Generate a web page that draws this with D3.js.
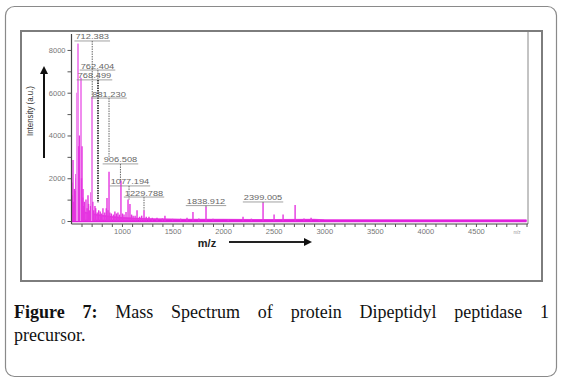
<!DOCTYPE html>
<html>
<head>
<meta charset="utf-8">
<script src="https://cdn.jsdelivr.net/npm/d3@7"></script>
<style>
body { margin: 0; background: #fff; }
#wrap { position: relative; width: 562px; height: 382px; }
#chart { position: absolute; left: 0; top: 0; }
.cap { position: absolute; left: 14px; width: 535px; font-family: "Liberation Serif", serif; font-size: 18px; color: #111; white-space: nowrap; }
#cap1 { top: 302px; text-align: justify; text-align-last: justify; white-space: normal; }
#cap2 { top: 325px; }
</style>
</head>
<body>
<div id="wrap">
<svg id="chart" width="562" height="382"></svg>
<div class="cap" id="cap1"><b>Figure 7:</b> Mass Spectrum of protein Dipeptidyl peptidase 1</div>
<div class="cap" id="cap2">precursor.</div>
</div>
<script>
// peaks: [m/z, intensity]
const peaks = [
    [505, 1800], [508, 1200], [516, 2850], [523, 900], [530, 1500], [538, 1400],
    [545, 2200], [548, 2000], [555, 6000], [565, 8300], [572, 3500], [580, 4000],
    [588, 2500], [595, 6700], [600, 2000], [605, 3500], [612, 1100], [615, 1500],
    [622, 700], [628, 900], [644, 1000], [655, 600], [664, 1200], [670, 800],
    [678, 500], [690, 700], [694, 1350], [704, 5800], [712, 900], [720, 500],
    [733, 700], [740, 600], [755, 400], [770, 500], [785, 450], [798, 350],
    [812, 600], [830, 400], [845, 600], [852, 1070], [862, 500], [872, 2300],
    [880, 400], [895, 350], [915, 300], [930, 450], [945, 350], [960, 400],
    [975, 300], [990, 1900], [1005, 350], [1020, 300], [1040, 420], [1060, 1000],
    [1079, 800], [1095, 300], [1110, 250], [1130, 250], [1149, 500], [1175, 200],
    [1195, 250], [1218, 500], [1240, 200], [1267, 200], [1300, 150], [1346, 150],
    [1400, 120], [1425, 250], [1500, 100], [1580, 110], [1643, 150], [1702, 420],
    [1760, 120], [1831, 650], [1900, 100], [2050, 90], [2197, 200], [2280, 110],
    [2395, 850], [2504, 300], [2593, 300], [2712, 750], [2800, 120], [2870, 150],
    [2950, 90]
];
// noisy floor under the spectrum
const baseline = [
    [500, 700], [520, 650], [550, 550], [600, 480], [650, 420], [700, 380],
    [750, 330], [800, 290], [900, 230], [1000, 190], [1100, 160], [1300, 130],
    [1600, 110], [2000, 100], [2500, 95], [2900, 110], [3000, 80], [4000, 75], [5000, 75]
];
const annotations = [
    { text: "712.383", at: 706, mz: 706, level: 8420, end: 5800, dark: false },
    { text: "762.404", at: 758, mz: 762, level: 7060, end: 6650, dark: false },
    { text: "768.499", at: 728, mz: 763, level: 6600, end: 850, dark: true },
    { text: "881.230", at: 872, mz: 872, level: 5750, end: 3000, dark: false },
    { text: "906.508", at: 985, mz: 985, level: 2670, end: 1900, dark: false },
    { text: "1077.194", at: 1079, mz: 1070, level: 1640, end: 1000, dark: false },
    { text: "1229.788", at: 1218, mz: 1218, level: 1120, end: 500, dark: false },
    { text: "1838.912", at: 1831, mz: 1831, level: 720, end: 650, dark: false },
    { text: "2399.005", at: 2395, mz: 2395, level: 890, end: 850, dark: false }
];
const mzMajor = [1000, 1500, 2000, 2500, 3000, 3500, 4000, 4500];
const intensityMajor = [0, 2000, 4000, 6000, 8000];

const svg = d3.select("#chart");
const pink = "#e535e0";

// outer rounded box and the figure frame
svg.append("rect").attr("x", 5.5).attr("y", 6.5).attr("width", 551).attr("height", 370)
    .attr("rx", 9).attr("fill", "none").attr("stroke", "#8a8a8a").attr("stroke-width", 1.2);
svg.append("rect").attr("x", 21).attr("y", 31).attr("width", 521).attr("height", 250)
    .attr("fill", "none").attr("stroke", "#7d7d7d").attr("stroke-width", 2);

const x = d3.scaleLinear().domain([500, 5000]).range([71.4, 526.5]);
const y = d3.scaleLinear().domain([0, 8746]).range([221, 34]);

// plot right border
svg.append("line").attr("x1", 528).attr("x2", 528).attr("y1", 32).attr("y2", 224)
    .attr("stroke", "#888").attr("stroke-width", 1);

// spectrum floor
svg.append("path")
    .datum(baseline)
    .attr("d", d3.area().x(d => x(d[0])).y0(y(0) + 1).y1(d => y(d[1])))
    .attr("fill", "#ef6aec");
svg.append("path")
    .datum(baseline)
    .attr("d", d3.line().x(d => x(d[0])).y(d => y(d[1]) + 1))
    .attr("fill", "none").attr("stroke", pink).attr("stroke-width", 1.5);
svg.append("line").attr("x1", x(500)).attr("x2", x(5000)).attr("y1", y(0)).attr("y2", y(0))
    .attr("stroke", "#e020dc").attr("stroke-width", 2.5);

// peaks
svg.append("g").selectAll("line").data(peaks).join("line")
    .attr("x1", d => x(d[0])).attr("x2", d => x(d[0]))
    .attr("y1", y(0)).attr("y2", d => y(d[1]))
    .attr("stroke", d => d[1] > 5000 ? "#f08cee" : pink)
    .attr("stroke-width", d => d[1] > 5000 ? 2 : 1.4);

// axes
const yAxis = d3.axisLeft(y)
    .tickValues(d3.range(0, 8001, 1000))
    .tickFormat(d => intensityMajor.includes(d) ? d : "")
    .tickSize(4).tickPadding(2);
const gy = svg.append("g").attr("transform", "translate(71.5,0)").call(yAxis);
gy.select(".domain").attr("d", "M0,34V224");

const xAxis = d3.axisBottom(x)
    .tickValues(d3.range(600, 5001, 100))
    .tickFormat(d => mzMajor.includes(d) ? d : "")
    .tickSize(3).tickPadding(2);
const gx = svg.append("g").attr("transform", "translate(0,224)").call(xAxis);
gx.select(".domain").attr("d", "M71.5,0H528");

svg.selectAll(".tick line").attr("stroke", "#555");
svg.selectAll(".domain").attr("stroke", "#444").attr("stroke-width", 1.2);
svg.selectAll(".tick text").attr("fill", "#777").style("font-family", "Liberation Sans, sans-serif")
    .style("font-size", "7.5px");

svg.append("text").attr("x", 517).attr("y", 234).attr("text-anchor", "middle")
    .attr("fill", "#999").style("font-family", "Liberation Sans, sans-serif").style("font-size", "4.5px")
    .text("m/z");

// annotations
const ann = svg.append("g");
annotations.forEach(a => {
    let cx = x(a.at);
    let w = a.text.length * 4.8;
    ann.append("text").attr("x", cx).attr("y", y(a.level) - 1.5)
        .attr("text-anchor", "middle").attr("fill", "#666")
        .attr("textLength", w).attr("lengthAdjust", "spacingAndGlyphs")
        .style("font-family", "Liberation Sans, sans-serif").style("font-size", "7px")
        .text(a.text);
    ann.append("line").attr("x1", cx - w / 2 - 1).attr("x2", cx + w / 2 + 1)
        .attr("y1", y(a.level)).attr("y2", y(a.level))
        .attr("stroke", "#888").attr("stroke-width", 0.8);
    ann.append("line").attr("x1", x(a.mz)).attr("x2", x(a.mz))
        .attr("y1", y(a.level)).attr("y2", y(a.end))
        .attr("stroke", a.dark ? "#222" : "#666")
        .attr("stroke-width", a.dark ? 1.6 : 1)
        .attr("stroke-dasharray", "1.5,1");
});

// axis titles with arrows
svg.append("defs").append("marker").attr("id", "head")
    .attr("viewBox", "0 0 10 10").attr("refX", 5).attr("refY", 5)
    .attr("markerWidth", 4).attr("markerHeight", 4).attr("orient", "auto")
    .append("path").attr("d", "M0,0L10,5L0,10Z").attr("fill", "#111");

svg.append("text").attr("transform", "translate(33,111) rotate(-90)")
    .attr("text-anchor", "middle").attr("fill", "#333")
    .attr("textLength", 50).attr("lengthAdjust", "spacingAndGlyphs")
    .style("font-family", "Liberation Sans, sans-serif").style("font-size", "8.5px")
    .text("Intensity (a.u.)");
svg.append("line").attr("x1", 44).attr("x2", 44).attr("y1", 158).attr("y2", 70)
    .attr("stroke", "#111").attr("stroke-width", 2).attr("marker-end", "url(#head)");

svg.append("text").attr("x", 207).attr("y", 247).attr("text-anchor", "middle")
    .attr("fill", "#222").style("font-family", "Liberation Sans, sans-serif")
    .style("font-size", "11px").style("font-weight", "bold").text("m/z");
svg.append("line").attr("x1", 229).attr("x2", 308).attr("y1", 242).attr("y2", 242)
    .attr("stroke", "#222").attr("stroke-width", 2).attr("marker-end", "url(#head)");
</script>
</body>
</html>
